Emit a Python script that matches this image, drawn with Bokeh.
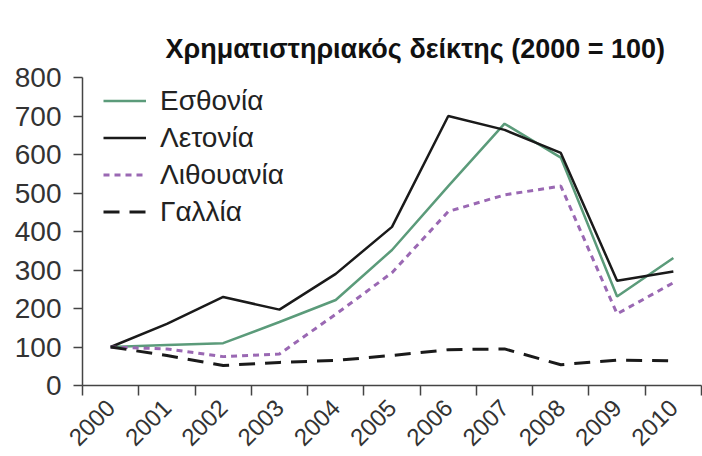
import math
from bokeh.plotting import figure
from bokeh.models import FixedTicker, Legend, LegendItem, Range1d
from bokeh.embed import file_html
from bokeh.resources import INLINE

years = ["2000", "2001", "2002", "2003", "2004", "2005", "2006", "2007", "2008", "2009", "2010"]
estonia = [100, 105, 110, 165, 222, 352, 518, 680, 592, 231, 331]
latvia = [100, 160, 230, 197, 290, 412, 700, 664, 604, 272, 296]
lithuania = [100, 95, 75, 82, 185, 293, 452, 495, 518, 186, 267]
france = [100, 78, 52, 60, 65, 78, 93, 95, 54, 66, 64]
y_ticks = [0, 100, 200, 300, 400, 500, 600, 700, 800]

FONT = "Liberation Sans"
xs = [i + 0.5 for i in range(len(years))]

p = figure(width=702, height=456, output_backend="svg", toolbar_location=None,
           x_range=Range1d(0, len(years)), y_range=Range1d(0, 800),
           min_border_left=82, min_border_right=1, min_border_top=77, min_border_bottom=70)
p.title.text = "Χρηματιστηριακός δείκτης (2000 = 100)"
p.title.text_font = FONT
p.title.text_font_size = "27px"
p.title.text_font_style = "bold"
p.title.text_color = "#111111"
p.title.align = "left"
p.title.offset = 83
p.title.standoff = 28
p.outline_line_color = None
p.grid.grid_line_color = None

r1 = p.line(xs, estonia, line_color="#5b9b7a", line_width=2.5)
r2 = p.line(xs, latvia, line_color="#1a1a1a", line_width=2.5)
r3 = p.line(xs, lithuania, line_color="#9a68b3", line_width=3, line_dash="6 5")
r4 = p.line(xs, france, line_color="#1a1a1a", line_width=3, line_dash="16 10")

legend = Legend(items=[LegendItem(label="Εσθονία", renderers=[r1]),
                       LegendItem(label="Λετονία", renderers=[r2]),
                       LegendItem(label="Λιθουανία", renderers=[r3]),
                       LegendItem(label="Γαλλία", renderers=[r4])],
                location=(21, 155))
legend.border_line_color = None
legend.background_fill_alpha = 0
legend.label_text_font = FONT
legend.label_text_font_size = "28px"
legend.label_text_color = "#222222"
legend.glyph_width = 43
legend.glyph_height = 37
legend.label_height = 37
legend.spacing = 0
legend.label_standoff = 14
legend.margin = 0
legend.padding = 0
p.add_layout(legend)

# x axis
xt = FixedTicker(ticks=xs, minor_ticks=list(range(len(years) + 1)))
p.xaxis.ticker = xt
p.xaxis.major_label_overrides = {x: y for x, y in zip(xs, years)}
p.xaxis.major_tick_line_color = None
p.xaxis.minor_tick_line_color = "#444444"
p.xaxis.minor_tick_line_width = 1.5
p.xaxis.minor_tick_out = 10
p.xaxis.minor_tick_in = 0
p.xaxis.major_label_orientation = math.pi / 4
p.xaxis.major_label_text_font = FONT
p.xaxis.major_label_text_font_size = "24px"
p.xaxis.major_label_text_color = "#333333"
p.xaxis.major_label_standoff = 8
p.xaxis.axis_line_color = "#444444"
p.xaxis.axis_line_width = 1.5

# y axis
p.yaxis.ticker = FixedTicker(ticks=y_ticks)
p.yaxis.minor_tick_line_color = None
p.yaxis.major_tick_line_color = "#444444"
p.yaxis.major_tick_line_width = 1.5
p.yaxis.major_tick_out = 9
p.yaxis.major_tick_in = 0
p.yaxis.major_label_text_font = FONT
p.yaxis.major_label_text_font_size = "28px"
p.yaxis.major_label_text_color = "#333333"
p.yaxis.major_label_standoff = 12
p.yaxis.axis_line_color = "#444444"
p.yaxis.axis_line_width = 1.5

open("out.html", "w").write(file_html(p, INLINE))
